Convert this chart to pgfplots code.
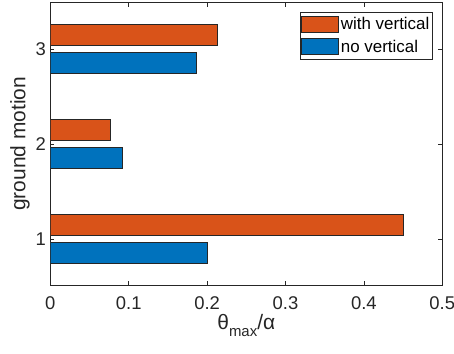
\documentclass[border=0pt]{standalone}
\usepackage{fontspec}
\setmainfont{Liberation Sans}
\usepackage{pgfplots}
\pgfplotsset{compat=1.18}
\definecolor{mOrange}{RGB}{217,83,25}
\definecolor{mBlue}{RGB}{0,114,189}
\definecolor{axgray}{RGB}{38,38,38}
\begin{document}
\begin{tikzpicture}
\begin{axis}[
  name=ax,
  scale only axis,
  width=392bp, height=282.3bp,
  xbar,
  xmin=0, xmax=0.5,
  ymin=0.516, ymax=3.487,
  xtick={0,0.1,0.2,0.3,0.4,0.5},
  xticklabels={0,0.1,0.2,0.3,0.4,0.5},
  ytick={1,2,3},
  yticklabels={1,2,3},
  /pgf/number format/assume math mode=true,
  tick align=inside,
  major tick length=4bp,
  axis line style={axgray, line width=0.6bp},
  tick style={axgray, line width=0.6bp},
  xticklabel style={font=\fontsize{18.5}{21}\selectfont, text=axgray, yshift=-8bp},
  yticklabel style={font=\fontsize{18.5}{21}\selectfont, text=axgray, xshift=-1bp},
  xlabel={θ\raisebox{-0.35em}{\fontsize{15}{16}\selectfont max}/α},
  ylabel={ground motion},
  xlabel style={font=\fontsize{21}{24}\selectfont, text=axgray, yshift=2bp},
  ylabel style={font=\fontsize{21}{24}\selectfont, text=axgray, yshift=-1bp},
  bar width=0.221,
  legend style={
    at={(1,1)}, anchor=north east, xshift=-9.6bp, yshift=-9bp,
    draw=axgray, line width=0.6bp,
    font=\fontsize{17}{19}\selectfont,
    inner xsep=1bp, inner ysep=3.5bp,
    row sep=4.5bp,
    cells={anchor=west},
  },
  legend image code/.code={\draw[#1, line width=0.6bp] (0bp,-7.5bp) rectangle (37bp,8.5bp);},
  legend cell align=left,
]
\addplot[fill=mOrange, draw=black!85, line width=0.7bp, bar shift=0.145]
  coordinates {(0.450,1) (0.077,2) (0.2135,3)};
\addplot[fill=mBlue, draw=black!85, line width=0.7bp, bar shift=-0.145]
  coordinates {(0.200,1) (0.092,2) (0.1867,3)};
\legend{with vertical, no vertical}
\end{axis}
\pgfresetboundingbox
\useasboundingbox ([xshift=-50.3bp,yshift=-68bp]ax.south west) rectangle ([xshift=11.7bp,yshift=2.7bp]ax.north east);
\end{tikzpicture}
\end{document}
